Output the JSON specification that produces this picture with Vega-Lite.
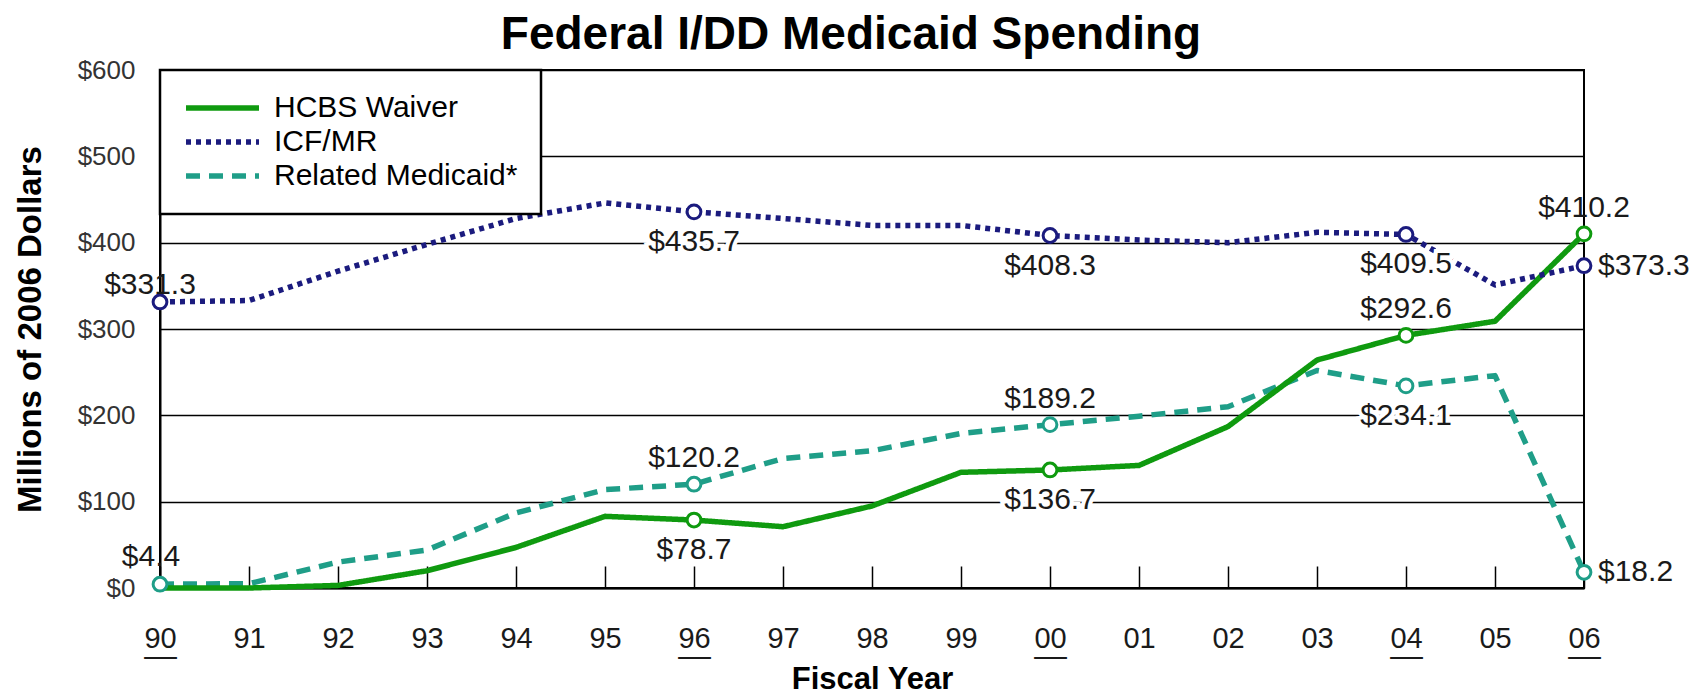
{
  "$schema": "https://vega.github.io/schema/vega-lite/v6.json",
  "autosize": {"type": "none"},
  "width": 1424,
  "height": 518,
  "padding": {"left": 160, "top": 70, "right": 116, "bottom": 107},
  "background": "white",
  "title": {"text": "Federal I/DD Medicaid Spending", "fontSize": 46, "fontWeight": "bold", "font": "Liberation Sans", "color": "black", "anchor": "middle", "offset": -2, "dx": -21},
  "data": {"values": [
    {"series": "Related Medicaid*", "year": 1990, "value": 4.4},
    {"series": "Related Medicaid*", "year": 1991, "value": 5},
    {"series": "Related Medicaid*", "year": 1992, "value": 30},
    {"series": "Related Medicaid*", "year": 1993, "value": 44},
    {"series": "Related Medicaid*", "year": 1994, "value": 87},
    {"series": "Related Medicaid*", "year": 1995, "value": 114},
    {"series": "Related Medicaid*", "year": 1996, "value": 120.2},
    {"series": "Related Medicaid*", "year": 1997, "value": 150},
    {"series": "Related Medicaid*", "year": 1998, "value": 159},
    {"series": "Related Medicaid*", "year": 1999, "value": 179},
    {"series": "Related Medicaid*", "year": 2000, "value": 189.2},
    {"series": "Related Medicaid*", "year": 2001, "value": 199},
    {"series": "Related Medicaid*", "year": 2002, "value": 210},
    {"series": "Related Medicaid*", "year": 2003, "value": 252},
    {"series": "Related Medicaid*", "year": 2004, "value": 234.1},
    {"series": "Related Medicaid*", "year": 2005, "value": 246},
    {"series": "Related Medicaid*", "year": 2006, "value": 18.2},
    {"series": "HCBS Waiver", "year": 1990, "value": 0},
    {"series": "HCBS Waiver", "year": 1991, "value": 0},
    {"series": "HCBS Waiver", "year": 1992, "value": 3},
    {"series": "HCBS Waiver", "year": 1993, "value": 20},
    {"series": "HCBS Waiver", "year": 1994, "value": 47},
    {"series": "HCBS Waiver", "year": 1995, "value": 83},
    {"series": "HCBS Waiver", "year": 1996, "value": 78.7},
    {"series": "HCBS Waiver", "year": 1997, "value": 71},
    {"series": "HCBS Waiver", "year": 1998, "value": 95},
    {"series": "HCBS Waiver", "year": 1999, "value": 134},
    {"series": "HCBS Waiver", "year": 2000, "value": 136.7},
    {"series": "HCBS Waiver", "year": 2001, "value": 142},
    {"series": "HCBS Waiver", "year": 2002, "value": 187},
    {"series": "HCBS Waiver", "year": 2003, "value": 264},
    {"series": "HCBS Waiver", "year": 2004, "value": 292.6},
    {"series": "HCBS Waiver", "year": 2005, "value": 309},
    {"series": "HCBS Waiver", "year": 2006, "value": 410.2},
    {"series": "ICF/MR", "year": 1990, "value": 331.3},
    {"series": "ICF/MR", "year": 1991, "value": 333},
    {"series": "ICF/MR", "year": 1992, "value": 367},
    {"series": "ICF/MR", "year": 1993, "value": 398},
    {"series": "ICF/MR", "year": 1994, "value": 428},
    {"series": "ICF/MR", "year": 1995, "value": 446},
    {"series": "ICF/MR", "year": 1996, "value": 435.7},
    {"series": "ICF/MR", "year": 1997, "value": 428},
    {"series": "ICF/MR", "year": 1998, "value": 420},
    {"series": "ICF/MR", "year": 1999, "value": 420},
    {"series": "ICF/MR", "year": 2000, "value": 408.3},
    {"series": "ICF/MR", "year": 2001, "value": 403},
    {"series": "ICF/MR", "year": 2002, "value": 400},
    {"series": "ICF/MR", "year": 2003, "value": 412},
    {"series": "ICF/MR", "year": 2004, "value": 409.5},
    {"series": "ICF/MR", "year": 2005, "value": 351},
    {"series": "ICF/MR", "year": 2006, "value": 373.3}
  ]},
  "encoding": {
    "x": {"field": "year", "type": "quantitative",
      "scale": {"domain": [1990, 2006], "nice": false, "zero": false},
      "axis": {
        "values": [1990,1991,1992,1993,1994,1995,1996,1997,1998,1999,2000,2001,2002,2003,2004,2005,2006],
        "labelExpr": "(datum.value == 1990 || datum.value == 1996 || datum.value == 2000 || datum.value == 2004 || datum.value == 2006) ? [format(datum.value % 100, '02d'), '__'] : format(datum.value % 100, '02d')",
        "labelFlush": false, "labelOverlap": false, "labelBound": false,
        "tickSize": -22, "tickWidth": 1.5, "tickColor": "black",
        "domainColor": "black", "domainWidth": 2,
        "labelFontSize": 29, "labelFont": "Liberation Sans", "labelColor": "#1a1a1a", "labelPadding": 58, "labelLineHeight": 5,
        "title": "Fiscal Year", "titleFontSize": 31, "titleFont": "Liberation Sans", "titleFontWeight": "bold", "titleColor": "black", "titlePadding": 6,
        "grid": false
      }
    },
    "y": {"field": "value", "type": "quantitative",
      "scale": {"domain": [0, 600], "nice": false},
      "axis": {
        "values": [0,100,200,300,400,500,600], "format": "$,.0f",
        "ticks": false, "domainColor": "black", "domainWidth": 2,
        "grid": true, "gridColor": "black", "gridWidth": 1.5, "gridOpacity": 1,
        "labelFontSize": 26, "labelFont": "Liberation Sans", "labelColor": "#333333", "labelPadding": 25,
        "title": "Millions of 2006 Dollars", "titleFontSize": 33, "titleFont": "Liberation Sans", "titleFontWeight": "bold", "titleColor": "black", "titlePadding": 30
      }
    }
  },
  "layer": [
    {
      "mark": {"type": "line", "strokeWidth": 5.5, "strokeCap": "butt", "strokeJoin": "round"},
      "encoding": {
        "color": {"field": "series", "type": "nominal",
          "scale": {"domain": ["HCBS Waiver", "ICF/MR", "Related Medicaid*"], "range": ["#0f9a0f", "#1b1b7e", "#1f9e88"]},
          "legend": {"title": null}},
        "strokeDash": {"field": "series", "type": "nominal",
          "scale": {"domain": ["HCBS Waiver", "ICF/MR", "Related Medicaid*"], "range": [[1, 0], [5, 5], [14, 9]]},
          "legend": {"title": null}}
      }
    },
    {
      "transform": [{"filter": "(datum.year == 1990 || datum.year == 1996 || datum.year == 2000 || datum.year == 2004 || datum.year == 2006) && !(datum.series == 'HCBS Waiver' && datum.year == 1990)"}],
      "mark": {"type": "point", "shape": "circle", "filled": false, "fill": "white", "fillOpacity": 1, "size": 190, "strokeWidth": 3, "opacity": 1},
      "encoding": {"color": {"field": "series", "type": "nominal", "legend": null}}
    },
    {
      "transform": [{"filter": "(datum.series == 'Related Medicaid*' && (datum.year == 1996 || datum.year == 2000)) || (datum.series == 'HCBS Waiver' && (datum.year == 2004 || datum.year == 2006))"}],
      "mark": {"type": "text", "font": "Liberation Sans", "fontSize": 30, "color": "#1a1a1a", "baseline": "alphabetic", "align": "center", "dy": -17},
      "encoding": {"text": {"field": "value", "type": "quantitative", "format": "$.1f"}}
    },
    {
      "transform": [{"filter": "datum.year == 1990 && datum.series == 'ICF/MR'"}],
      "mark": {"type": "text", "font": "Liberation Sans", "fontSize": 30, "color": "#1a1a1a", "baseline": "alphabetic", "align": "center", "dy": -8, "dx": -10},
      "encoding": {"text": {"field": "value", "type": "quantitative", "format": "$.1f"}}
    },
    {
      "transform": [{"filter": "datum.year == 1990 && datum.series == 'Related Medicaid*'"}],
      "mark": {"type": "text", "font": "Liberation Sans", "fontSize": 30, "color": "#1a1a1a", "baseline": "alphabetic", "align": "center", "dy": -18, "dx": -9},
      "encoding": {"text": {"field": "value", "type": "quantitative", "format": "$.1f"}}
    },
    {
      "transform": [{"filter": "(datum.series == 'ICF/MR' && (datum.year == 1996 || datum.year == 2000 || datum.year == 2004)) || (datum.series == 'HCBS Waiver' && (datum.year == 1996 || datum.year == 2000)) || (datum.series == 'Related Medicaid*' && datum.year == 2004)"}],
      "mark": {"type": "text", "font": "Liberation Sans", "fontSize": 30, "color": "white", "stroke": "white", "strokeWidth": 8, "baseline": "alphabetic", "align": "center", "dy": 39},
      "encoding": {"text": {"field": "value", "type": "quantitative", "format": "$.1f"}}
    },
    {
      "transform": [{"filter": "(datum.series == 'ICF/MR' && (datum.year == 1996 || datum.year == 2000 || datum.year == 2004)) || (datum.series == 'HCBS Waiver' && (datum.year == 1996 || datum.year == 2000)) || (datum.series == 'Related Medicaid*' && datum.year == 2004)"}],
      "mark": {"type": "text", "font": "Liberation Sans", "fontSize": 30, "color": "#1a1a1a", "baseline": "alphabetic", "align": "center", "dy": 39},
      "encoding": {"text": {"field": "value", "type": "quantitative", "format": "$.1f"}}
    },
    {
      "transform": [{"filter": "datum.year == 2006 && datum.series != 'HCBS Waiver'"}],
      "mark": {"type": "text", "font": "Liberation Sans", "fontSize": 30, "color": "#1a1a1a", "baseline": "middle", "align": "left", "dx": 14},
      "encoding": {"text": {"field": "value", "type": "quantitative", "format": "$.1f"}}
    }
  ],
  "config": {
    "view": {"stroke": "black", "strokeWidth": 2},
    "legend": {
      "orient": "top-left", "offset": 0, "padding": 23,
      "strokeColor": "black", "strokeWidth": 2.5, "fillColor": "white", "cornerRadius": 0,
      "labelFontSize": 30, "labelFont": "Liberation Sans", "labelColor": "black", "labelLimit": 400,
      "symbolType": "stroke", "symbolSize": 5329, "symbolStrokeWidth": 5.5,
      "labelOffset": 12, "rowPadding": 4, "clipHeight": 30
    }
  }
}
